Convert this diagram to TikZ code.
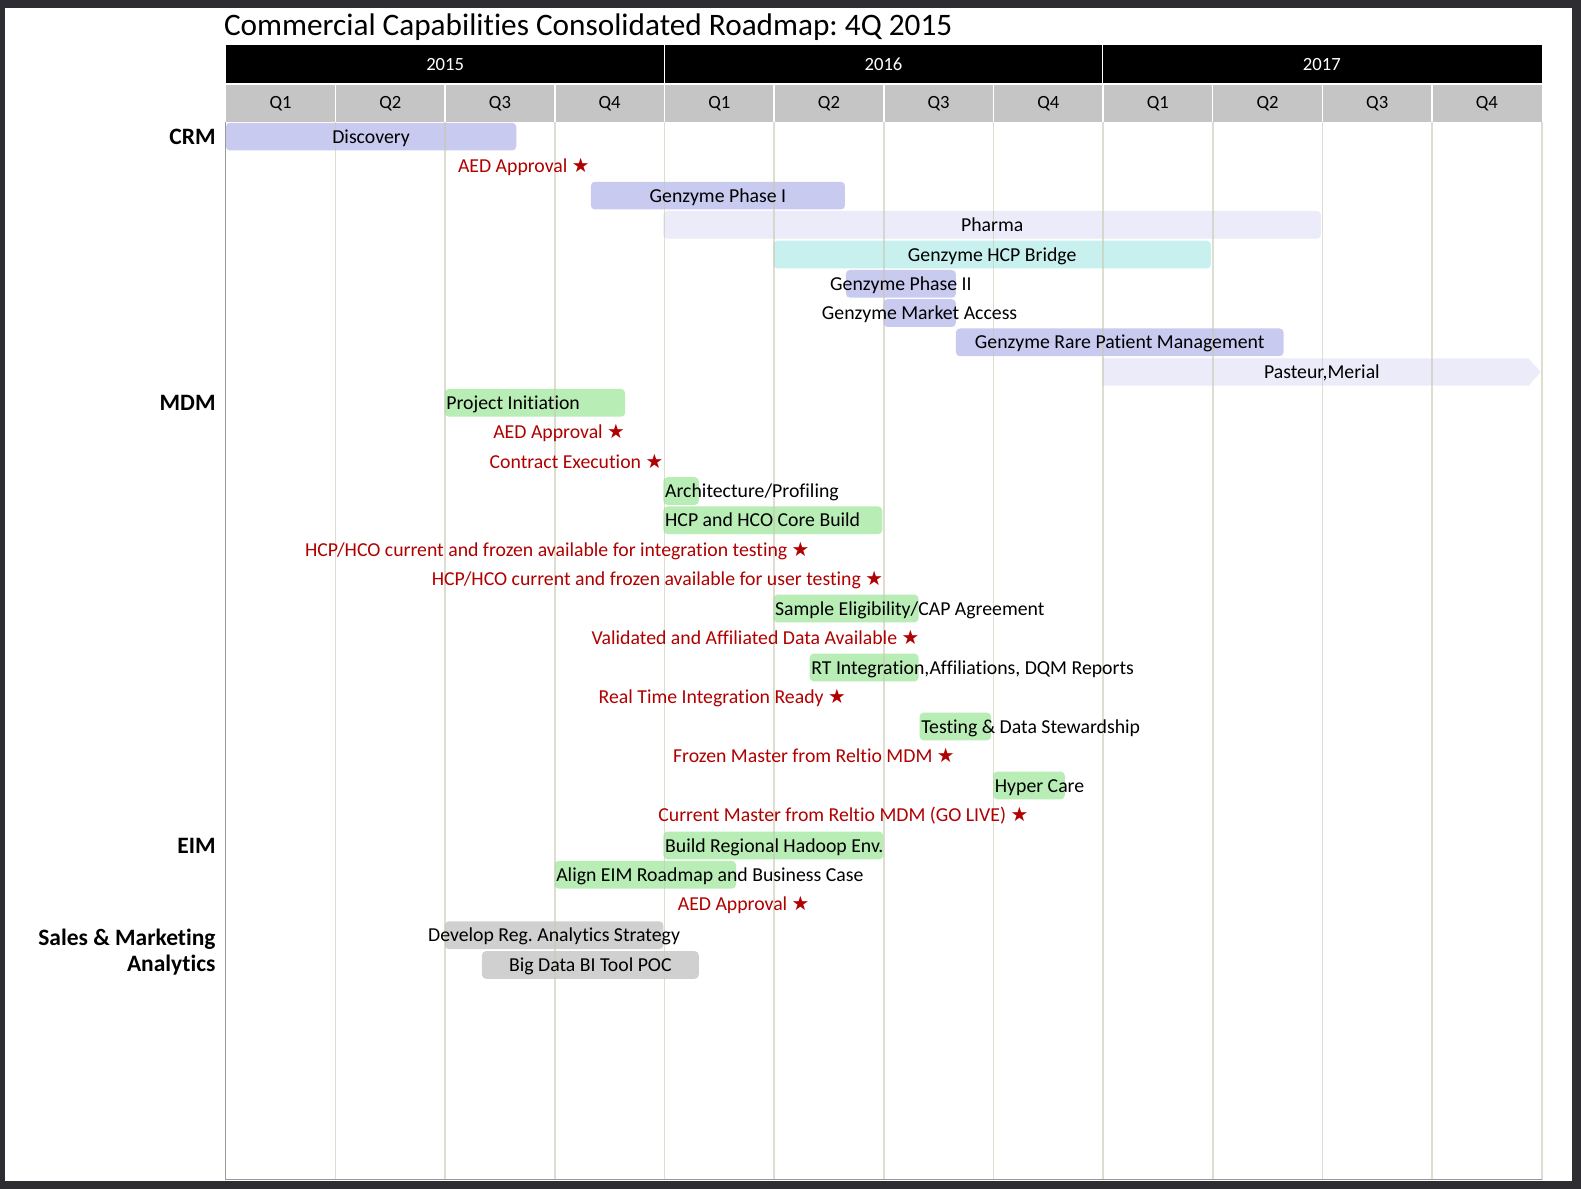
\documentclass[tikz,border=0pt]{standalone}
\usepackage{fontspec}
\setmainfont{Carlito}[Ligatures=NoCommon]
\newfontfamily\symfont{DejaVu Sans}
\frenchspacing
\definecolor{frame}{RGB}{45,45,50}
\definecolor{lav}{RGB}{200,202,240}
\definecolor{pale}{RGB}{235,235,250}
\definecolor{cyanbar}{RGB}{200,240,238}
\definecolor{greenbar}{RGB}{185,237,182}
\definecolor{graybar}{RGB}{208,208,208}
\definecolor{qgray}{RGB}{197,197,197}
\definecolor{gridc}{RGB}{200,200,178}
\definecolor{msred}{RGB}{176,0,0}
\tikzset{
  barbox/.style={rectangle, rounded corners=4pt, inner sep=0pt, outer sep=0pt, minimum height=27.5pt},
  lbl/.style={inner sep=0pt, font=\fontsize{19.6}{22}\selectfont},
  ms/.style={lbl, text=msred, anchor=base east},
  cat/.style={inner sep=0pt, font=\fontsize{23.3}{25.5}\selectfont\bfseries},
  hdr/.style={inner sep=0pt, font=\fontsize{18.5}{21}\selectfont},
  gridline/.style={draw=gridc, line width=1.6pt, opacity=0.6},
}
\newcommand\rmbar[5]{%
  \pgfmathsetmacro\rmw{#3-#2}\pgfmathsetmacro\rmc{(#2+#3)/2}%
  \node[barbox,fill=#5,minimum width=\rmw pt] (#1) at (\rmc,#4) {};}
\newcommand\ctext[2]{\node[lbl,anchor=base] (#1t) at ([yshift=-6.6pt]#1.center) {#2};}
\newcommand\wtext[2]{\node[lbl,anchor=base west] (#1t) at ([xshift=1.5pt,yshift=-6.6pt]#1.west) {#2};}
\newcommand\mstone[4]{\node[ms] (#1) at (#2,#3+6.8) {#4 {\symfont ★}};}
\begin{document}
\begin{tikzpicture}[x=1pt,y=-1pt]
\useasboundingbox (0,0) rectangle (1568,1179);
\fill[frame] (0,0) rectangle (1568,1179);
\fill[white] (5,8) rectangle (1559,1171);
% title
\node[inner sep=0pt, anchor=base west, font=\fontsize{31}{34}\selectfont] (title) at (222,35) {Commercial Capabilities Consolidated Roadmap: 4Q 2015};
% year bar
\fill[black] (224,45) rectangle (1529,82);
\fill[qgray] (224,84) rectangle (1529,121);
\foreach \k in {1,...,11} {\draw[white, line width=1.5pt] ({224+\k*108.75},84) -- ({224+\k*108.75},121);}
\draw[white, line width=1.2pt] (658.75,45) -- (658.75,82);
\draw[white, line width=1.2pt] (1093.5,45) -- (1093.5,82);
\node[hdr, text=white] (y2015) at (441.5,63.5) {2015};
\node[hdr, text=white] (y2016) at (876.25,63.5) {2016};
\node[hdr, text=white] (y2017) at (1311,63.5) {2017};
\foreach \k [count=\i from 0] in {1,2,3,4,1,2,3,4,1,2,3,4} {
  \node[hdr] (q\i) at ({224+54.375+\i*108.75},102.5) {Q\k};}
% bars
\rmbar{b1}{224}{512}{135.5}{lav}
\rmbar{b2}{586}{838}{194}{lav}
\rmbar{b3}{658}{1310}{223}{pale}
\rmbar{b4}{767}{1201}{252.5}{cyanbar}
\rmbar{b5}{839}{948}{281.5}{lav}
\rmbar{b6}{876}{948}{310.5}{lav}
\rmbar{b7}{948}{1273}{339.5}{lav}
\path[fill=pale] (1093,355.5) -- (1516,355.5) -- (1528,369) -- (1516,382.5) -- (1093,382.5) -- cycle;
\coordinate (b8) at (1311,369);
\rmbar{b9}{441}{620}{399.5}{greenbar}
\rmbar{b10}{658}{693}{487}{greenbar}
\rmbar{b11}{658}{875}{516}{greenbar}
\rmbar{b12}{767}{911}{603.5}{greenbar}
\rmbar{b13}{803}{911}{662}{greenbar}
\rmbar{b14}{912}{983}{720.5}{greenbar}
\rmbar{b15}{985}{1056}{779}{greenbar}
\rmbar{b16}{658}{876}{838.5}{greenbar}
\rmbar{b17}{550}{730}{867.5}{greenbar}
\rmbar{b18}{441}{658}{927.5}{graybar}
\rmbar{b19}{478}{693}{957}{graybar}
% grid
\foreach \k in {1,...,12} {\draw[gridline] ({224+\k*108.75},121) -- ({224+\k*108.75},1170);}
\draw[gray!80, line width=1pt] (224,121) -- (224,1170) -- (1529,1170);
% categories
\node[cat, anchor=base east] (crm) at (214,143) {CRM};
\node[cat, anchor=base east] (mdm) at (214,407) {MDM};
\node[cat, anchor=base east] (eim) at (214,846) {EIM};
\node[cat, anchor=center, align=right, left] (sma) at (214,944.5) {Sales \& Marketing\\Analytics};
% bar labels
\ctext{b1}{Discovery}
\ctext{b2}{Genzyme Phase I}
\ctext{b3}{Pharma}
\ctext{b4}{Genzyme HCP Bridge}
\ctext{b5}{Genzyme Phase II}
\ctext{b6}{Genzyme Market Access}
\ctext{b7}{Genzyme Rare Patient Management}
\ctext{b8}{Pasteur,Merial}
\wtext{b9}{Project Initiation}
\wtext{b10}{Architecture/Profiling}
\wtext{b11}{HCP and HCO Core Build}
\wtext{b12}{Sample Eligibility/CAP Agreement}
\wtext{b13}{RT Integration,Affiliations, DQM Reports}
\wtext{b14}{Testing \& Data Stewardship}
\wtext{b15}{Hyper Care}
\wtext{b16}{Build Regional Hadoop Env.}
\wtext{b17}{Align EIM Roadmap and Business Case}
\ctext{b18}{Develop Reg. Analytics Strategy}
\ctext{b19}{Big Data BI Tool POC}
% milestones
\mstone{m1}{585}{164.5}{AED Approval}
\mstone{m2}{620}{428.5}{AED Approval}
\mstone{m3}{658}{457.5}{Contract Execution}
\mstone{m4}{803}{545}{HCP/HCO current and frozen available for integration testing}
\mstone{m5}{876}{574}{HCP/HCO current and frozen available for user testing}
\mstone{m6}{912}{632.5}{Validated and Affiliated Data Available}
\mstone{m7}{839}{691}{Real Time Integration Ready}
\mstone{m8}{947}{749.5}{Frozen Master from Reltio MDM}
\mstone{m9}{1020}{807.5}{Current Master from Reltio MDM (GO LIVE)}
\mstone{m10}{803}{896.5}{AED Approval}
\end{tikzpicture}
\end{document}
